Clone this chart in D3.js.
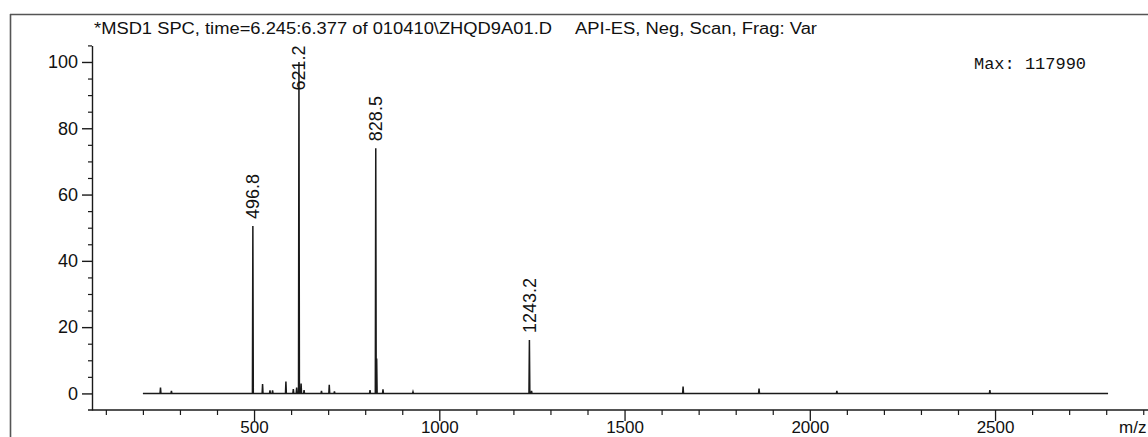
<!DOCTYPE html>
<html><head><meta charset="utf-8">
<script src="https://cdn.jsdelivr.net/npm/d3@7"></script>
<style>
html,body{margin:0;padding:0;background:#fff;overflow:hidden}
svg{display:block}
text{font-family:"Liberation Sans",Arial,sans-serif;fill:#111}
</style></head><body>
<svg id="c" width="1148" height="437"></svg>
<script>
// ---- data ----
const mzValues = [247.5, 277, 496.8, 523, 543, 550, 586, 606, 615, 621.2, 627, 635, 682, 703, 717, 813, 828.5, 831, 848, 929, 1243.2, 1249, 1658, 1863, 2073, 2486];
const abundance = [1.8, 0.8, 50.5, 2.8, 0.9, 0.9, 3.6, 1.3, 1.8, 100, 3.0, 1.0, 0.8, 2.6, 0.6, 1.0, 74, 10.5, 1.2, 0.5, 16.1, 0.8, 2.1, 1.5, 0.8, 1.0];
const labeledMz = [496.8, 621.2, 828.5, 1243.2];
const scanRange = [200, 2805];
const yMajorTicks = [0, 20, 40, 60, 80, 100];
const xMajorTicks = [500, 1000, 1500, 2000, 2500];
const titleLeft = "*MSD1 SPC, time=6.245:6.377 of 010410\\ZHQD9A01.D";
const titleRight = "API-ES, Neg, Scan, Frag: Var";
const maxText = "Max: 117990";
const xUnit = "m/z";

const svg = d3.select("#c");
const x = d3.scaleLinear().domain([0, 2900]).range([68.8, 1143.25]);
const y = d3.scaleLinear().domain([-5, 105]).range([410, 45.4]);
const ink = "#1a1a1a";

// frame
svg.append("line").attr("x1",10.5).attr("x2",10.5).attr("y1",14).attr("y2",437).attr("stroke","#555").attr("stroke-width",1.6);
svg.append("line").attr("x1",10).attr("x2",1148).attr("y1",14.5).attr("y2",14.5).attr("stroke","#555").attr("stroke-width",1.6);

// title
svg.append("text").attr("x",94).attr("y",33.5).attr("font-size",16)
  .attr("textLength",458).attr("lengthAdjust","spacingAndGlyphs").text(titleLeft);
svg.append("text").attr("x",575).attr("y",33.5).attr("font-size",16)
  .attr("textLength",242).attr("lengthAdjust","spacingAndGlyphs").text(titleRight);

// max annotation
svg.append("text").attr("x",974).attr("y",69).attr("font-size",16)
  .style("font-family","'Liberation Mono','Courier New',monospace")
  .attr("textLength",112).attr("lengthAdjust","spacingAndGlyphs").text(maxText);

// y axis
const yMinor = d3.range(5, 106, 5).filter(v => !yMajorTicks.includes(v));
const gy = svg.append("g").attr("transform","translate(92,0)");
gy.call(d3.axisLeft(y).tickValues(yMajorTicks).tickSize(10).tickSizeOuter(0).tickPadding(4).tickFormat(d3.format("d")));
gy.selectAll("text").attr("font-size",18).style("font-family","'Liberation Sans',Arial,sans-serif").attr("fill","#111");
gy.selectAll("line,path").attr("stroke",ink).attr("stroke-width",1.4);
const gyMinor = svg.append("g").attr("transform","translate(92,0)");
gyMinor.call(d3.axisLeft(y).tickValues(yMinor).tickSize(4).tickSizeOuter(0).tickFormat(""));
gyMinor.select("path").remove();
gyMinor.selectAll("line").attr("stroke",ink).attr("stroke-width",1.2);

// x axis
svg.append("line").attr("x1",88).attr("x2",1148).attr("y1",410).attr("y2",410).attr("stroke",ink).attr("stroke-width",1.4);
const xMinor = d3.range(100, 2901, 100).filter(v => !xMajorTicks.includes(v));
const gx = svg.append("g").attr("transform","translate(0,410)");
gx.call(d3.axisBottom(x).tickValues(xMajorTicks).tickSize(11).tickSizeOuter(0).tickPadding(0).tickFormat(d3.format("d")));
gx.select("path").remove();
gx.selectAll("text").attr("font-size",17).style("font-family","'Liberation Sans',Arial,sans-serif").attr("fill","#111")
  .attr("y",null).attr("dy",null).attr("transform","translate(0,22.5)");
gx.selectAll("line").attr("stroke",ink).attr("stroke-width",1.3);
const gxMinor = svg.append("g").attr("transform","translate(0,410)");
gxMinor.call(d3.axisBottom(x).tickValues(xMinor).tickSize(5).tickSizeOuter(0).tickFormat(""));
gxMinor.select("path").remove();
gxMinor.selectAll("line").attr("stroke",ink).attr("stroke-width",1.2);
svg.append("text").attr("x",1119).attr("y",432.5).attr("font-size",17).text(xUnit);

// spectrum: baseline + sticks
const peaks = mzValues.map((m,i)=>({m, v: abundance[i]}));
const pts = [[scanRange[0],0]];
peaks.forEach(p => { pts.push([p.m-1.2,0],[p.m,p.v],[p.m+1.2,0]); });
pts.push([scanRange[1],0]);
svg.append("path")
  .attr("d", d3.line().x(d=>x(d[0])).y(d=>y(d[1]))(pts))
  .attr("fill","none").attr("stroke",ink).attr("stroke-width",1.5).attr("stroke-linejoin","miter");

// peak labels (rotated)
const labelFont = 18;
const topLimit = y(105);
labeledMz.forEach(m => {
  const p = peaks.find(q => q.m === m);
  const txt = m.toFixed(1);
  const t = svg.append("text").attr("font-size",labelFont).text(txt);
  const len = t.node().getComputedTextLength();
  let bottom = y(p.v) - 7;
  if (bottom - len < topLimit) bottom = topLimit + len;
  t.attr("transform",`translate(${x(m)+6.5},${bottom}) rotate(-90)`);
});
</script>
</body></html>
